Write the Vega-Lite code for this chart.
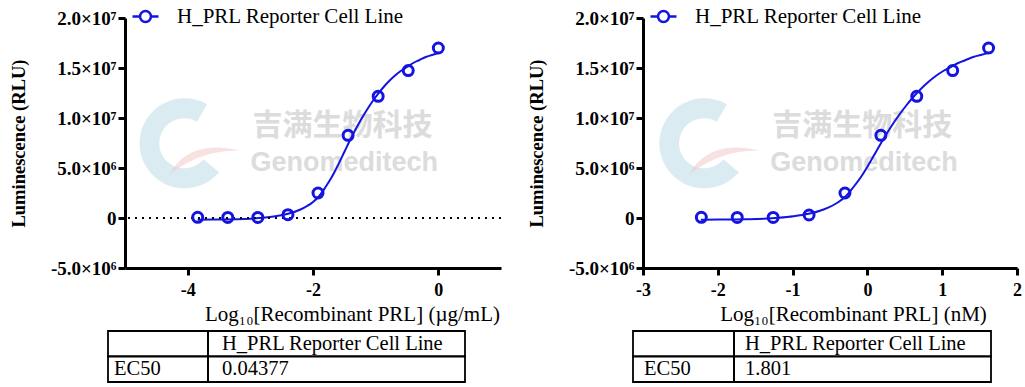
{
  "$schema": "https://vega.github.io/schema/vega-lite/v6.json",
  "background": "white",
  "padding": {"left": 9, "top": 2, "right": 2, "bottom": 2},
  "config": {
    "view": {"stroke": null},
    "font": "Liberation Serif",
    "axis": {"domainColor": "black", "domainWidth": 3, "tickColor": "black", "tickWidth": 3, "tickSize": 7, "grid": false, "labelColor": "black", "titleColor": "black", "labelFont": "Liberation Serif", "titleFont": "Liberation Serif", "labelFontSize": 18, "labelFontWeight": "bold", "titleFontSize": 21}
  },
  "datasets": {
    "ptsL": [
      {"series": "H_PRL Reporter Cell Line", "x": -3.84, "y": 70000},
      {"series": "H_PRL Reporter Cell Line", "x": -3.36, "y": 60000},
      {"series": "H_PRL Reporter Cell Line", "x": -2.88, "y": 60000},
      {"series": "H_PRL Reporter Cell Line", "x": -2.40, "y": 330000},
      {"series": "H_PRL Reporter Cell Line", "x": -1.92, "y": 2500000},
      {"series": "H_PRL Reporter Cell Line", "x": -1.44, "y": 8270000},
      {"series": "H_PRL Reporter Cell Line", "x": -0.96, "y": 12170000},
      {"series": "H_PRL Reporter Cell Line", "x": -0.48, "y": 14740000},
      {"series": "H_PRL Reporter Cell Line", "x": 0.0, "y": 17000000}
    ],
    "ptsR": [
      {"series": "H_PRL Reporter Cell Line", "x": -2.22, "y": 70000},
      {"series": "H_PRL Reporter Cell Line", "x": -1.74, "y": 60000},
      {"series": "H_PRL Reporter Cell Line", "x": -1.26, "y": 60000},
      {"series": "H_PRL Reporter Cell Line", "x": -0.78, "y": 300000},
      {"series": "H_PRL Reporter Cell Line", "x": -0.30, "y": 2500000},
      {"series": "H_PRL Reporter Cell Line", "x": 0.18, "y": 8270000},
      {"series": "H_PRL Reporter Cell Line", "x": 0.66, "y": 12170000},
      {"series": "H_PRL Reporter Cell Line", "x": 1.14, "y": 14740000},
      {"series": "H_PRL Reporter Cell Line", "x": 1.62, "y": 17000000}
    ],
    "curveL": [
      {"series": "H_PRL Reporter Cell Line", "x": -3.84, "y": -170000},
      {"series": "H_PRL Reporter Cell Line", "x": -3.6, "y": -160000},
      {"series": "H_PRL Reporter Cell Line", "x": -3.4, "y": -150000},
      {"series": "H_PRL Reporter Cell Line", "x": -3.2, "y": -120000},
      {"series": "H_PRL Reporter Cell Line", "x": -3.0, "y": -70000},
      {"series": "H_PRL Reporter Cell Line", "x": -2.8, "y": 20000},
      {"series": "H_PRL Reporter Cell Line", "x": -2.6, "y": 170000},
      {"series": "H_PRL Reporter Cell Line", "x": -2.4, "y": 420000},
      {"series": "H_PRL Reporter Cell Line", "x": -2.2, "y": 850000},
      {"series": "H_PRL Reporter Cell Line", "x": -2.0, "y": 1600000},
      {"series": "H_PRL Reporter Cell Line", "x": -1.9, "y": 2200000},
      {"series": "H_PRL Reporter Cell Line", "x": -1.8, "y": 3100000},
      {"series": "H_PRL Reporter Cell Line", "x": -1.7, "y": 4100000},
      {"series": "H_PRL Reporter Cell Line", "x": -1.6, "y": 5300000},
      {"series": "H_PRL Reporter Cell Line", "x": -1.5, "y": 6600000},
      {"series": "H_PRL Reporter Cell Line", "x": -1.4, "y": 7900000},
      {"series": "H_PRL Reporter Cell Line", "x": -1.3, "y": 9100000},
      {"series": "H_PRL Reporter Cell Line", "x": -1.2, "y": 10200000},
      {"series": "H_PRL Reporter Cell Line", "x": -1.1, "y": 11200000},
      {"series": "H_PRL Reporter Cell Line", "x": -1.0, "y": 12100000},
      {"series": "H_PRL Reporter Cell Line", "x": -0.9, "y": 12900000},
      {"series": "H_PRL Reporter Cell Line", "x": -0.8, "y": 13600000},
      {"series": "H_PRL Reporter Cell Line", "x": -0.7, "y": 14200000},
      {"series": "H_PRL Reporter Cell Line", "x": -0.6, "y": 14700000},
      {"series": "H_PRL Reporter Cell Line", "x": -0.5, "y": 15100000},
      {"series": "H_PRL Reporter Cell Line", "x": -0.4, "y": 15500000},
      {"series": "H_PRL Reporter Cell Line", "x": -0.3, "y": 15800000},
      {"series": "H_PRL Reporter Cell Line", "x": -0.2, "y": 16100000},
      {"series": "H_PRL Reporter Cell Line", "x": -0.1, "y": 16300000},
      {"series": "H_PRL Reporter Cell Line", "x": 0.0, "y": 16500000}
    ],
    "curveR": [
      {"series": "H_PRL Reporter Cell Line", "x": -2.226, "y": -170000},
      {"series": "H_PRL Reporter Cell Line", "x": -1.986, "y": -160000},
      {"series": "H_PRL Reporter Cell Line", "x": -1.786, "y": -150000},
      {"series": "H_PRL Reporter Cell Line", "x": -1.586, "y": -120000},
      {"series": "H_PRL Reporter Cell Line", "x": -1.386, "y": -70000},
      {"series": "H_PRL Reporter Cell Line", "x": -1.186, "y": 20000},
      {"series": "H_PRL Reporter Cell Line", "x": -0.986, "y": 170000},
      {"series": "H_PRL Reporter Cell Line", "x": -0.786, "y": 420000},
      {"series": "H_PRL Reporter Cell Line", "x": -0.586, "y": 850000},
      {"series": "H_PRL Reporter Cell Line", "x": -0.386, "y": 1600000},
      {"series": "H_PRL Reporter Cell Line", "x": -0.286, "y": 2200000},
      {"series": "H_PRL Reporter Cell Line", "x": -0.186, "y": 3100000},
      {"series": "H_PRL Reporter Cell Line", "x": -0.086, "y": 4100000},
      {"series": "H_PRL Reporter Cell Line", "x": 0.014, "y": 5300000},
      {"series": "H_PRL Reporter Cell Line", "x": 0.114, "y": 6600000},
      {"series": "H_PRL Reporter Cell Line", "x": 0.214, "y": 7900000},
      {"series": "H_PRL Reporter Cell Line", "x": 0.314, "y": 9100000},
      {"series": "H_PRL Reporter Cell Line", "x": 0.414, "y": 10200000},
      {"series": "H_PRL Reporter Cell Line", "x": 0.514, "y": 11200000},
      {"series": "H_PRL Reporter Cell Line", "x": 0.614, "y": 12100000},
      {"series": "H_PRL Reporter Cell Line", "x": 0.714, "y": 12900000},
      {"series": "H_PRL Reporter Cell Line", "x": 0.814, "y": 13600000},
      {"series": "H_PRL Reporter Cell Line", "x": 0.914, "y": 14200000},
      {"series": "H_PRL Reporter Cell Line", "x": 1.014, "y": 14700000},
      {"series": "H_PRL Reporter Cell Line", "x": 1.114, "y": 15100000},
      {"series": "H_PRL Reporter Cell Line", "x": 1.214, "y": 15500000},
      {"series": "H_PRL Reporter Cell Line", "x": 1.314, "y": 15800000},
      {"series": "H_PRL Reporter Cell Line", "x": 1.414, "y": 16100000},
      {"series": "H_PRL Reporter Cell Line", "x": 1.514, "y": 16300000},
      {"series": "H_PRL Reporter Cell Line", "x": 1.614, "y": 16500000}
    ],
    "tableL": [
      {"row": "1", "c1": "", "c2": "H_PRL Reporter Cell Line"},
      {"row": "2", "c1": "EC50", "c2": "0.04377"}
    ],
    "tableR": [
      {"row": "1", "c1": "", "c2": "H_PRL Reporter Cell Line"},
      {"row": "2", "c1": "EC50", "c2": "1.801"}
    ]
  },
  "spacing": 25,
  "resolve": {"scale": {"color": "independent", "x": "independent", "y": "independent"}, "legend": {"color": "independent"}},
  "hconcat": [
    {
      "spacing": 6,
      "resolve": {"scale": {"color": "independent", "x": "independent", "y": "independent"}, "legend": {"color": "independent"}},
      "vconcat": [
        {
          "width": 376,
          "height": 250,
          "layer": [
            {
              "data": {"values": [{}]},
              "mark": {"type": "point", "filled": true, "size": 10000, "opacity": 0.55, "color": "#bcdbe6", "shape": "M0.45,-0.78A0.9,0.9,0,1,0,0.69,0.58L0.38,0.32A0.5,0.5,0,1,1,0.25,-0.43Z"},
              "encoding": {"x": {"datum": -4.05}, "y": {"datum": 7470000}}
            },
            {
              "data": {"values": [{}]},
              "mark": {"type": "point", "filled": true, "size": 10000, "opacity": 0.5, "color": "#f2c4c4", "shape": "M-0.3,0.62Q0.1,-0.1,1.1,0.15Q0.35,0.12,-0.3,0.62Z"},
              "encoding": {"x": {"datum": -4.05}, "y": {"datum": 7470000}}
            },
            {
              "data": {"values": [{}]},
              "mark": {"type": "text", "text": "吉满生物科技", "font": "Noto Sans CJK SC", "fontWeight": "bold", "fontSize": 30, "color": "#dcdcdc", "align": "center", "baseline": "middle"},
              "encoding": {"x": {"datum": -1.53}, "y": {"datum": 9170000}}
            },
            {
              "data": {"values": [{}]},
              "mark": {"type": "text", "text": "Genomeditech", "font": "Liberation Sans", "fontWeight": "bold", "fontSize": 27, "color": "#dcdcdc", "align": "center", "baseline": "middle"},
              "encoding": {"x": {"datum": -1.5}, "y": {"datum": 5500000}}
            },
            {
              "data": {"name": "curveL"},
              "mark": {"type": "line", "interpolate": "monotone", "strokeWidth": 2},
              "encoding": {
                "x": {"field": "x", "type": "quantitative", "scale": {"domain": [-5, 1], "nice": false, "zero": false},
                  "axis": {"values": [-4, -2, 0], "labelExpr": "replace(format(datum.value, 'd'), '−', '-')", "title": "Log₁₀[Recombinant PRL] (µg/mL)", "titleAnchor": "middle", "titleX": 227, "titleFontWeight": "normal", "titlePadding": 4, "labelPadding": 6}},
                "y": {"field": "y", "type": "quantitative", "scale": {"domain": [-5000000, 20000000], "nice": false, "zero": false},
                  "axis": {"values": [-5000000, 0, 5000000, 10000000, 15000000, 20000000], "title": "Luminescence (RLU)", "titleFontWeight": "bold", "titleFontSize": 18.5, "titlePadding": 22, "labelPadding": 2, "labelFontSize": 19,
                    "labelExpr": "datum.value == 0 ? '0' : (abs(datum.value) >= 10000000 ? format(datum.value / 10000000, '.1f') + '×10⁷' : replace(format(datum.value / 1000000, '.1f'), '−', '-') + '×10⁶')"}},
                "color": {"field": "series", "type": "nominal", "scale": {"range": ["#1414e0"]},
                  "legend": {"orient": "none", "legendX": 6, "legendY": -16, "title": null, "padding": 0, "labelLimit": 0,
                    "symbolType": "M-1,0L-0.42,0M0.42,0L1,0M-0.42,0A0.42,0.42,0,1,0,0.42,0A0.42,0.42,0,1,0,-0.42,0",
                    "symbolSize": 676, "symbolStrokeWidth": 2.5, "symbolFillColor": "white", "labelFont": "Liberation Serif", "labelFontSize": 21, "labelColor": "black", "labelOffset": 17}}
              }
            },
            {
              "data": {"values": [{}]},
              "mark": {"type": "rule", "strokeDash": [2, 5], "strokeWidth": 2, "color": "black"},
              "encoding": {"y": {"datum": 0}}
            },
            {
              "data": {"name": "ptsL"},
              "mark": {"type": "point", "filled": false, "size": 100, "strokeWidth": 3, "fill": "white", "fillOpacity": 0},
              "encoding": {
                "x": {"field": "x", "type": "quantitative"},
                "y": {"field": "y", "type": "quantitative"},
                "color": {"field": "series", "type": "nominal"}
              }
            }
          ]
        },
        {
          "width": 340,
          "height": 51,
          "data": {"name": "tableL"},
          "layer": [
            {
              "mark": {"type": "rect", "fill": "white", "stroke": "black", "strokeWidth": 1.8},
              "encoding": {
                "y": {"field": "row", "type": "nominal", "sort": ["1", "2"], "axis": null, "scale": {"paddingInner": 0, "paddingOuter": 0}},
                "x": {"datum": 0, "type": "quantitative", "scale": {"domain": [17, 357], "nice": false, "zero": false}, "axis": null},
                "x2": {"datum": 357}
              }
            },
            {
              "mark": {"type": "rule", "stroke": "black", "strokeWidth": 1.8},
              "encoding": {"x": {"datum": 100}}
            },
            {
              "mark": {"type": "text", "align": "left", "baseline": "middle", "fontSize": 20.5, "font": "Liberation Serif", "color": "black"},
              "encoding": {"y": {"field": "row", "type": "nominal", "sort": ["1", "2"]}, "x": {"datum": 6}, "text": {"field": "c1"}}
            },
            {
              "mark": {"type": "text", "align": "left", "baseline": "middle", "fontSize": 20.5, "font": "Liberation Serif", "color": "black"},
              "encoding": {"y": {"field": "row", "type": "nominal", "sort": ["1", "2"]}, "x": {"datum": 114}, "text": {"field": "c2"}}
            }
          ]
        }
      ]
    },
    {
      "spacing": 6,
      "resolve": {"scale": {"color": "independent", "x": "independent", "y": "independent"}, "legend": {"color": "independent"}},
      "vconcat": [
        {
          "width": 374,
          "height": 250,
          "layer": [
            {
              "data": {"values": [{}]},
              "mark": {"type": "point", "filled": true, "size": 10000, "opacity": 0.55, "color": "#bcdbe6", "shape": "M0.45,-0.78A0.9,0.9,0,1,0,0.69,0.58L0.38,0.32A0.5,0.5,0,1,1,0.25,-0.43Z"},
              "encoding": {"x": {"datum": -2.18}, "y": {"datum": 7470000}}
            },
            {
              "data": {"values": [{}]},
              "mark": {"type": "point", "filled": true, "size": 10000, "opacity": 0.5, "color": "#f2c4c4", "shape": "M-0.3,0.62Q0.1,-0.1,1.1,0.15Q0.35,0.12,-0.3,0.62Z"},
              "encoding": {"x": {"datum": -2.18}, "y": {"datum": 7470000}}
            },
            {
              "data": {"values": [{}]},
              "mark": {"type": "text", "text": "吉满生物科技", "font": "Noto Sans CJK SC", "fontWeight": "bold", "fontSize": 30, "color": "#dcdcdc", "align": "center", "baseline": "middle"},
              "encoding": {"x": {"datum": -0.07}, "y": {"datum": 9170000}}
            },
            {
              "data": {"values": [{}]},
              "mark": {"type": "text", "text": "Genomeditech", "font": "Liberation Sans", "fontWeight": "bold", "fontSize": 27, "color": "#dcdcdc", "align": "center", "baseline": "middle"},
              "encoding": {"x": {"datum": -0.045}, "y": {"datum": 5500000}}
            },
            {
              "data": {"name": "curveR"},
              "mark": {"type": "line", "interpolate": "monotone", "strokeWidth": 2},
              "encoding": {
                "x": {"field": "x", "type": "quantitative", "scale": {"domain": [-3, 2], "nice": false, "zero": false},
                  "axis": {"values": [-3, -2, -1, 0, 1, 2], "labelExpr": "replace(format(datum.value, 'd'), '−', '-')", "title": "Log₁₀[Recombinant PRL] (nM)", "titleAnchor": "middle", "titleX": 210, "titleFontWeight": "normal", "titlePadding": 4, "labelPadding": 6, "labelFlush": false}},
                "y": {"field": "y", "type": "quantitative", "scale": {"domain": [-5000000, 20000000], "nice": false, "zero": false},
                  "axis": {"values": [-5000000, 0, 5000000, 10000000, 15000000, 20000000], "title": "Luminescence (RLU)", "titleFontWeight": "bold", "titleFontSize": 18.5, "titlePadding": 22, "labelPadding": 2, "labelFontSize": 19,
                    "labelExpr": "datum.value == 0 ? '0' : (abs(datum.value) >= 10000000 ? format(datum.value / 10000000, '.1f') + '×10⁷' : replace(format(datum.value / 1000000, '.1f'), '−', '-') + '×10⁶')"}},
                "color": {"field": "series", "type": "nominal", "scale": {"range": ["#1414e0"]},
                  "legend": {"orient": "none", "legendX": 6, "legendY": -16, "title": null, "padding": 0, "labelLimit": 0,
                    "symbolType": "M-1,0L-0.42,0M0.42,0L1,0M-0.42,0A0.42,0.42,0,1,0,0.42,0A0.42,0.42,0,1,0,-0.42,0",
                    "symbolSize": 676, "symbolStrokeWidth": 2.5, "symbolFillColor": "white", "labelFont": "Liberation Serif", "labelFontSize": 21, "labelColor": "black", "labelOffset": 17}}
              }
            },
            {
              "data": {"name": "ptsR"},
              "mark": {"type": "point", "filled": false, "size": 100, "strokeWidth": 3, "fill": "white", "fillOpacity": 0},
              "encoding": {
                "x": {"field": "x", "type": "quantitative"},
                "y": {"field": "y", "type": "quantitative"},
                "color": {"field": "series", "type": "nominal"}
              }
            }
          ]
        },
        {
          "width": 348,
          "height": 51,
          "data": {"name": "tableR"},
          "layer": [
            {
              "mark": {"type": "rect", "fill": "white", "stroke": "black", "strokeWidth": 1.8},
              "encoding": {
                "y": {"field": "row", "type": "nominal", "sort": ["1", "2"], "axis": null, "scale": {"paddingInner": 0, "paddingOuter": 0}},
                "x": {"datum": 0, "type": "quantitative", "scale": {"domain": [10, 358], "nice": false, "zero": false}, "axis": null},
                "x2": {"datum": 358}
              }
            },
            {
              "mark": {"type": "rule", "stroke": "black", "strokeWidth": 1.8},
              "encoding": {"x": {"datum": 101}}
            },
            {
              "mark": {"type": "text", "align": "left", "baseline": "middle", "fontSize": 20.5, "font": "Liberation Serif", "color": "black"},
              "encoding": {"y": {"field": "row", "type": "nominal", "sort": ["1", "2"]}, "x": {"datum": 11}, "text": {"field": "c1"}}
            },
            {
              "mark": {"type": "text", "align": "left", "baseline": "middle", "fontSize": 20.5, "font": "Liberation Serif", "color": "black"},
              "encoding": {"y": {"field": "row", "type": "nominal", "sort": ["1", "2"]}, "x": {"datum": 112}, "text": {"field": "c2"}}
            }
          ]
        }
      ]
    }
  ]
}
